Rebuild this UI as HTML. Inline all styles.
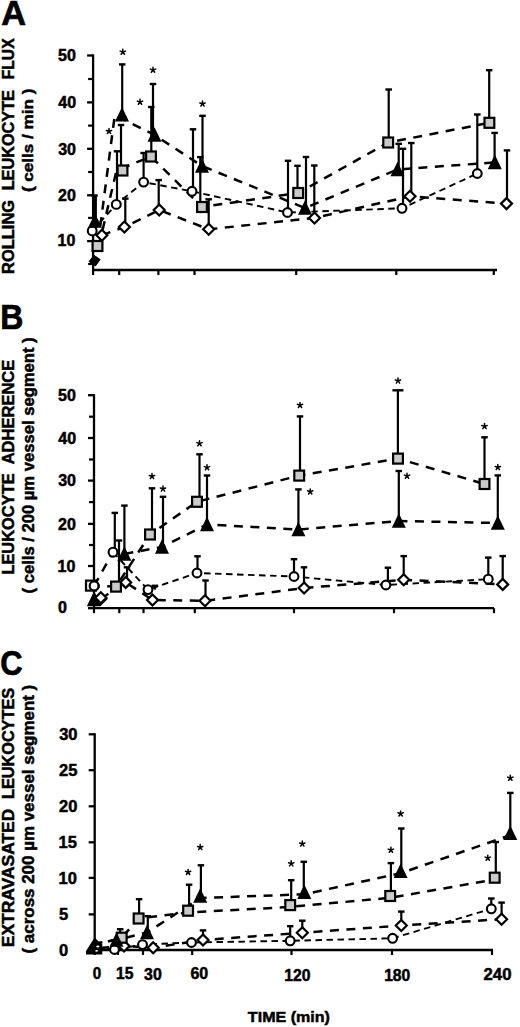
<!DOCTYPE html><html><head><meta charset="utf-8"><style>html,body{margin:0;padding:0;background:#fff;overflow:hidden;}svg{display:block;}text{font-family:"Liberation Sans", sans-serif;font-weight:bold;fill:#000;}</style></head><body>
<svg width="520" height="1027" viewBox="0 0 520 1027">
<rect width="520" height="1027" fill="#fff"/>
<text x="1.19" y="25.35" font-size="34.35" textLength="24.79" lengthAdjust="spacingAndGlyphs" stroke="#000" stroke-width="0.7">A</text>
<text x="0.27" y="329.35" font-size="35.08" textLength="23.09" lengthAdjust="spacingAndGlyphs" stroke="#000" stroke-width="0.7">B</text>
<text x="0.31" y="674.90" font-size="34.94" textLength="22.38" lengthAdjust="spacingAndGlyphs" stroke="#000" stroke-width="0.7">C</text>
<text transform="translate(14.00,79.27) rotate(-90)" font-size="16.50" textLength="40.89" lengthAdjust="spacingAndGlyphs" stroke="#000" stroke-width="0.5">FLUX</text>
<text transform="translate(14.00,190.31) rotate(-90)" font-size="16.50" textLength="100.26" lengthAdjust="spacingAndGlyphs" stroke="#000" stroke-width="0.5">LEUKOCYTE</text>
<text transform="translate(14.00,274.02) rotate(-90)" font-size="16.50" textLength="74.13" lengthAdjust="spacingAndGlyphs" stroke="#000" stroke-width="0.5">ROLLING</text>
<text transform="translate(33.00,192.10) rotate(-90)" font-size="15.50" textLength="103.56" lengthAdjust="spacingAndGlyphs" stroke="#000" stroke-width="0.5">( cells / min )</text>
<text transform="translate(14.00,464.36) rotate(-90)" font-size="16.50" textLength="104.66" lengthAdjust="spacingAndGlyphs" stroke="#000" stroke-width="0.5">ADHERENCE</text>
<text transform="translate(14.00,574.62) rotate(-90)" font-size="16.50" textLength="101.28" lengthAdjust="spacingAndGlyphs" stroke="#000" stroke-width="0.5">LEUKOCYTE</text>
<text transform="translate(33.50,593.48) rotate(-90)" font-size="16.00" textLength="256.12" lengthAdjust="spacingAndGlyphs" stroke="#000" stroke-width="0.5">( cells / 200 µm vessel segment )</text>
<text transform="translate(14.30,799.01) rotate(-90)" font-size="16.50" textLength="111.09" lengthAdjust="spacingAndGlyphs" stroke="#000" stroke-width="0.5">LEUKOCYTES</text>
<text transform="translate(14.30,947.18) rotate(-90)" font-size="16.50" textLength="138.53" lengthAdjust="spacingAndGlyphs" stroke="#000" stroke-width="0.5">EXTRAVASATED</text>
<text transform="translate(34.00,953.50) rotate(-90)" font-size="16.00" textLength="268.75" lengthAdjust="spacingAndGlyphs" stroke="#000" stroke-width="0.5">( across 200 µm vessel segment )</text>
<line x1="93.10" y1="54.40" x2="93.10" y2="271.10" stroke="#000" stroke-width="2.3" stroke-linecap="butt"/>
<line x1="87.10" y1="55.50" x2="93.10" y2="55.50" stroke="#000" stroke-width="2.3" stroke-linecap="butt"/>
<line x1="87.10" y1="102.40" x2="93.10" y2="102.40" stroke="#000" stroke-width="2.3" stroke-linecap="butt"/>
<line x1="87.10" y1="148.80" x2="93.10" y2="148.80" stroke="#000" stroke-width="2.3" stroke-linecap="butt"/>
<line x1="87.10" y1="195.30" x2="93.10" y2="195.30" stroke="#000" stroke-width="2.3" stroke-linecap="butt"/>
<line x1="87.10" y1="241.10" x2="93.10" y2="241.10" stroke="#000" stroke-width="2.3" stroke-linecap="butt"/>
<line x1="88.10" y1="79.00" x2="93.10" y2="79.00" stroke="#000" stroke-width="2.2" stroke-linecap="butt"/>
<line x1="88.10" y1="125.60" x2="93.10" y2="125.60" stroke="#000" stroke-width="2.2" stroke-linecap="butt"/>
<line x1="88.10" y1="172.00" x2="93.10" y2="172.00" stroke="#000" stroke-width="2.2" stroke-linecap="butt"/>
<line x1="88.10" y1="217.90" x2="93.10" y2="217.90" stroke="#000" stroke-width="2.2" stroke-linecap="butt"/>
<line x1="88.10" y1="264.00" x2="93.10" y2="264.00" stroke="#000" stroke-width="2.2" stroke-linecap="butt"/>
<line x1="92.00" y1="270.00" x2="497.00" y2="270.00" stroke="#000" stroke-width="2.3" stroke-linecap="butt"/>
<line x1="93.10" y1="270.00" x2="93.10" y2="275.00" stroke="#000" stroke-width="2.2" stroke-linecap="butt"/>
<line x1="119.20" y1="270.00" x2="119.20" y2="275.00" stroke="#000" stroke-width="2.2" stroke-linecap="butt"/>
<line x1="158.40" y1="270.00" x2="158.40" y2="275.00" stroke="#000" stroke-width="2.2" stroke-linecap="butt"/>
<line x1="194.50" y1="270.00" x2="194.50" y2="275.00" stroke="#000" stroke-width="2.2" stroke-linecap="butt"/>
<line x1="296.20" y1="270.00" x2="296.20" y2="275.00" stroke="#000" stroke-width="2.2" stroke-linecap="butt"/>
<line x1="396.30" y1="270.00" x2="396.30" y2="275.00" stroke="#000" stroke-width="2.2" stroke-linecap="butt"/>
<line x1="493.80" y1="270.00" x2="493.80" y2="275.00" stroke="#000" stroke-width="2.2" stroke-linecap="butt"/>
<text x="58.12" y="60.96" font-size="16" stroke="#000" stroke-width="0.5">50</text>
<text x="58.36" y="108.16" font-size="16" stroke="#000" stroke-width="0.5">40</text>
<text x="58.20" y="154.66" font-size="16" stroke="#000" stroke-width="0.5">30</text>
<text x="58.04" y="201.06" font-size="16" stroke="#000" stroke-width="0.5">20</text>
<text x="57.56" y="246.46" font-size="16" stroke="#000" stroke-width="0.5">10</text>
<polyline points="100.30,226.00 114.80,115.00 154.50,135.00 202.00,166.00 305.00,208.00 397.50,169.50 494.80,162.40" fill="none" stroke="#000" stroke-width="2.5" stroke-dasharray="9 7.5"/>
<polyline points="98.80,246.00 116.50,170.50 151.00,156.50 202.00,207.00 298.20,193.00 388.20,142.50 489.40,122.80" fill="none" stroke="#000" stroke-width="2.5" stroke-dasharray="9 7.5"/>
<polyline points="92.20,230.90 116.30,204.40 143.60,182.10 192.00,191.30 287.50,212.50 402.00,208.30 477.30,173.50" fill="none" stroke="#000" stroke-width="1.9" stroke-dasharray="6.5 4.5"/>
<polyline points="101.90,235.20 124.40,227.00 159.20,210.00 208.70,229.30 314.50,218.00 410.00,196.30 506.50,203.60" fill="none" stroke="#000" stroke-width="2.5" stroke-dasharray="9 7.5"/>
<line x1="94.50" y1="223.00" x2="94.50" y2="195.50" stroke="#000" stroke-width="2.2" stroke-linecap="butt"/>
<line x1="91.25" y1="195.50" x2="97.75" y2="195.50" stroke="#000" stroke-width="2.4" stroke-linecap="butt"/>
<line x1="200.30" y1="207.00" x2="200.30" y2="157.10" stroke="#000" stroke-width="2.2" stroke-linecap="butt"/>
<line x1="197.05" y1="157.10" x2="203.55" y2="157.10" stroke="#000" stroke-width="2.4" stroke-linecap="butt"/>
<line x1="122.20" y1="114.80" x2="122.20" y2="64.40" stroke="#000" stroke-width="2.2" stroke-linecap="butt"/>
<line x1="118.95" y1="64.40" x2="125.45" y2="64.40" stroke="#000" stroke-width="2.4" stroke-linecap="butt"/>
<line x1="153.00" y1="135.00" x2="153.00" y2="84.00" stroke="#000" stroke-width="2.2" stroke-linecap="butt"/>
<line x1="149.75" y1="84.00" x2="156.25" y2="84.00" stroke="#000" stroke-width="2.4" stroke-linecap="butt"/>
<line x1="202.50" y1="166.00" x2="202.50" y2="115.80" stroke="#000" stroke-width="2.2" stroke-linecap="butt"/>
<line x1="199.25" y1="115.80" x2="205.75" y2="115.80" stroke="#000" stroke-width="2.4" stroke-linecap="butt"/>
<line x1="306.00" y1="208.00" x2="306.00" y2="157.00" stroke="#000" stroke-width="2.2" stroke-linecap="butt"/>
<line x1="302.75" y1="157.00" x2="309.25" y2="157.00" stroke="#000" stroke-width="2.4" stroke-linecap="butt"/>
<line x1="398.70" y1="169.50" x2="398.70" y2="143.80" stroke="#000" stroke-width="2.2" stroke-linecap="butt"/>
<line x1="395.45" y1="143.80" x2="401.95" y2="143.80" stroke="#000" stroke-width="2.4" stroke-linecap="butt"/>
<line x1="494.60" y1="162.40" x2="494.60" y2="132.90" stroke="#000" stroke-width="2.2" stroke-linecap="butt"/>
<line x1="491.35" y1="132.90" x2="497.85" y2="132.90" stroke="#000" stroke-width="2.4" stroke-linecap="butt"/>
<line x1="121.00" y1="170.50" x2="121.00" y2="125.00" stroke="#000" stroke-width="2.2" stroke-linecap="butt"/>
<line x1="117.75" y1="125.00" x2="124.25" y2="125.00" stroke="#000" stroke-width="2.4" stroke-linecap="butt"/>
<line x1="151.30" y1="156.50" x2="151.30" y2="107.00" stroke="#000" stroke-width="2.2" stroke-linecap="butt"/>
<line x1="148.05" y1="107.00" x2="154.55" y2="107.00" stroke="#000" stroke-width="2.4" stroke-linecap="butt"/>
<line x1="297.50" y1="193.00" x2="297.50" y2="165.80" stroke="#000" stroke-width="2.2" stroke-linecap="butt"/>
<line x1="294.25" y1="165.80" x2="300.75" y2="165.80" stroke="#000" stroke-width="2.4" stroke-linecap="butt"/>
<line x1="388.70" y1="142.50" x2="388.70" y2="89.50" stroke="#000" stroke-width="2.2" stroke-linecap="butt"/>
<line x1="385.45" y1="89.50" x2="391.95" y2="89.50" stroke="#000" stroke-width="2.4" stroke-linecap="butt"/>
<line x1="489.20" y1="122.80" x2="489.20" y2="70.20" stroke="#000" stroke-width="2.2" stroke-linecap="butt"/>
<line x1="485.95" y1="70.20" x2="492.45" y2="70.20" stroke="#000" stroke-width="2.4" stroke-linecap="butt"/>
<line x1="117.00" y1="204.40" x2="117.00" y2="151.30" stroke="#000" stroke-width="2.2" stroke-linecap="butt"/>
<line x1="113.75" y1="151.30" x2="120.25" y2="151.30" stroke="#000" stroke-width="2.4" stroke-linecap="butt"/>
<line x1="143.60" y1="182.10" x2="143.60" y2="153.00" stroke="#000" stroke-width="2.2" stroke-linecap="butt"/>
<line x1="140.35" y1="153.00" x2="146.85" y2="153.00" stroke="#000" stroke-width="2.4" stroke-linecap="butt"/>
<line x1="193.00" y1="191.30" x2="193.00" y2="129.30" stroke="#000" stroke-width="2.2" stroke-linecap="butt"/>
<line x1="189.75" y1="129.30" x2="196.25" y2="129.30" stroke="#000" stroke-width="2.4" stroke-linecap="butt"/>
<line x1="288.00" y1="212.50" x2="288.00" y2="160.80" stroke="#000" stroke-width="2.2" stroke-linecap="butt"/>
<line x1="284.75" y1="160.80" x2="291.25" y2="160.80" stroke="#000" stroke-width="2.4" stroke-linecap="butt"/>
<line x1="403.00" y1="208.30" x2="403.00" y2="148.80" stroke="#000" stroke-width="2.2" stroke-linecap="butt"/>
<line x1="399.75" y1="148.80" x2="406.25" y2="148.80" stroke="#000" stroke-width="2.4" stroke-linecap="butt"/>
<line x1="477.30" y1="173.50" x2="477.30" y2="114.50" stroke="#000" stroke-width="2.2" stroke-linecap="butt"/>
<line x1="474.05" y1="114.50" x2="480.55" y2="114.50" stroke="#000" stroke-width="2.4" stroke-linecap="butt"/>
<line x1="125.30" y1="227.00" x2="125.30" y2="198.60" stroke="#000" stroke-width="2.2" stroke-linecap="butt"/>
<line x1="122.05" y1="198.60" x2="128.55" y2="198.60" stroke="#000" stroke-width="2.4" stroke-linecap="butt"/>
<line x1="158.70" y1="210.00" x2="158.70" y2="180.10" stroke="#000" stroke-width="2.2" stroke-linecap="butt"/>
<line x1="155.45" y1="180.10" x2="161.95" y2="180.10" stroke="#000" stroke-width="2.4" stroke-linecap="butt"/>
<line x1="208.70" y1="229.30" x2="208.70" y2="199.30" stroke="#000" stroke-width="2.2" stroke-linecap="butt"/>
<line x1="205.45" y1="199.30" x2="211.95" y2="199.30" stroke="#000" stroke-width="2.4" stroke-linecap="butt"/>
<line x1="314.30" y1="218.00" x2="314.30" y2="165.50" stroke="#000" stroke-width="2.2" stroke-linecap="butt"/>
<line x1="311.05" y1="165.50" x2="317.55" y2="165.50" stroke="#000" stroke-width="2.4" stroke-linecap="butt"/>
<line x1="411.30" y1="196.30" x2="411.30" y2="143.00" stroke="#000" stroke-width="2.2" stroke-linecap="butt"/>
<line x1="408.05" y1="143.00" x2="414.55" y2="143.00" stroke="#000" stroke-width="2.4" stroke-linecap="butt"/>
<line x1="507.00" y1="203.60" x2="507.00" y2="150.40" stroke="#000" stroke-width="2.2" stroke-linecap="butt"/>
<line x1="503.75" y1="150.40" x2="510.25" y2="150.40" stroke="#000" stroke-width="2.4" stroke-linecap="butt"/>
<path d="M101.90,229.70 L107.40,235.20 L101.90,240.70 L96.40,235.20 Z" fill="#fff" stroke="#000" stroke-width="2.2"/>
<path d="M124.40,221.50 L129.90,227.00 L124.40,232.50 L118.90,227.00 Z" fill="#fff" stroke="#000" stroke-width="2.2"/>
<path d="M159.20,204.50 L164.70,210.00 L159.20,215.50 L153.70,210.00 Z" fill="#fff" stroke="#000" stroke-width="2.2"/>
<path d="M208.70,223.80 L214.20,229.30 L208.70,234.80 L203.20,229.30 Z" fill="#fff" stroke="#000" stroke-width="2.2"/>
<path d="M314.50,212.50 L320.00,218.00 L314.50,223.50 L309.00,218.00 Z" fill="#fff" stroke="#000" stroke-width="2.2"/>
<path d="M410.00,190.80 L415.50,196.30 L410.00,201.80 L404.50,196.30 Z" fill="#fff" stroke="#000" stroke-width="2.2"/>
<path d="M506.50,198.10 L512.00,203.60 L506.50,209.10 L501.00,203.60 Z" fill="#fff" stroke="#000" stroke-width="2.2"/>
<circle cx="92.20" cy="230.90" r="4.4" fill="#fff" stroke="#000" stroke-width="2.1"/>
<circle cx="116.30" cy="204.40" r="4.4" fill="#fff" stroke="#000" stroke-width="2.1"/>
<circle cx="143.60" cy="182.10" r="4.4" fill="#fff" stroke="#000" stroke-width="2.1"/>
<circle cx="192.00" cy="191.30" r="4.4" fill="#fff" stroke="#000" stroke-width="2.1"/>
<circle cx="287.50" cy="212.50" r="4.4" fill="#fff" stroke="#000" stroke-width="2.1"/>
<circle cx="402.00" cy="208.30" r="4.4" fill="#fff" stroke="#000" stroke-width="2.1"/>
<circle cx="477.30" cy="173.50" r="4.4" fill="#fff" stroke="#000" stroke-width="2.1"/>
<rect x="92.60" y="241.00" width="9.8" height="10" fill="#cacaca" stroke="#000" stroke-width="2.2"/>
<rect x="117.60" y="165.50" width="9.8" height="10" fill="#cacaca" stroke="#000" stroke-width="2.2"/>
<rect x="146.10" y="151.50" width="9.8" height="10" fill="#cacaca" stroke="#000" stroke-width="2.2"/>
<rect x="197.10" y="202.00" width="9.8" height="10" fill="#cacaca" stroke="#000" stroke-width="2.2"/>
<rect x="293.30" y="188.00" width="9.8" height="10" fill="#cacaca" stroke="#000" stroke-width="2.2"/>
<rect x="383.30" y="137.50" width="9.8" height="10" fill="#cacaca" stroke="#000" stroke-width="2.2"/>
<rect x="484.50" y="117.80" width="9.8" height="10" fill="#cacaca" stroke="#000" stroke-width="2.2"/>
<path d="M95.00,213.20 L102.00,227.80 L88.00,227.80 Z" fill="#000"/>
<path d="M122.00,107.00 L129.00,121.60 L115.00,121.60 Z" fill="#000"/>
<path d="M154.50,127.20 L161.50,141.80 L147.50,141.80 Z" fill="#000"/>
<path d="M202.00,158.20 L209.00,172.80 L195.00,172.80 Z" fill="#000"/>
<path d="M305.00,200.20 L312.00,214.80 L298.00,214.80 Z" fill="#000"/>
<path d="M397.50,161.70 L404.50,176.30 L390.50,176.30 Z" fill="#000"/>
<path d="M494.80,154.60 L501.80,169.20 L487.80,169.20 Z" fill="#000"/>
<path d="M122.80,52.00L122.80,49.20M122.80,52.00L125.46,51.13M122.80,52.00L124.45,54.27M122.80,52.00L121.15,54.27M122.80,52.00L120.14,51.13" stroke="#000" stroke-width="1.5" stroke-linecap="round" fill="none"/>
<path d="M109.00,131.30L109.00,128.50M109.00,131.30L111.66,130.43M109.00,131.30L110.65,133.57M109.00,131.30L107.35,133.57M109.00,131.30L106.34,130.43" stroke="#000" stroke-width="1.5" stroke-linecap="round" fill="none"/>
<path d="M153.00,70.00L153.00,67.20M153.00,70.00L155.66,69.13M153.00,70.00L154.65,72.27M153.00,70.00L151.35,72.27M153.00,70.00L150.34,69.13" stroke="#000" stroke-width="1.5" stroke-linecap="round" fill="none"/>
<path d="M140.00,102.00L140.00,99.20M140.00,102.00L142.66,101.13M140.00,102.00L141.65,104.27M140.00,102.00L138.35,104.27M140.00,102.00L137.34,101.13" stroke="#000" stroke-width="1.5" stroke-linecap="round" fill="none"/>
<path d="M202.50,103.80L202.50,101.00M202.50,103.80L205.16,102.93M202.50,103.80L204.15,106.07M202.50,103.80L200.85,106.07M202.50,103.80L199.84,102.93" stroke="#000" stroke-width="1.5" stroke-linecap="round" fill="none"/>
<path d="M94.00,255.30 L100.10,259.50 L95.50,265.90 L89.10,261.50 Z" fill="#000" stroke="#000" stroke-width="1"/>
<rect x="92.2" y="196" width="4.7" height="28" fill="#000"/>
<line x1="94.00" y1="394.10" x2="94.00" y2="609.30" stroke="#000" stroke-width="2.3" stroke-linecap="butt"/>
<line x1="88.00" y1="395.20" x2="94.00" y2="395.20" stroke="#000" stroke-width="2.3" stroke-linecap="butt"/>
<line x1="88.00" y1="438.00" x2="94.00" y2="438.00" stroke="#000" stroke-width="2.3" stroke-linecap="butt"/>
<line x1="88.00" y1="480.60" x2="94.00" y2="480.60" stroke="#000" stroke-width="2.3" stroke-linecap="butt"/>
<line x1="88.00" y1="523.90" x2="94.00" y2="523.90" stroke="#000" stroke-width="2.3" stroke-linecap="butt"/>
<line x1="88.00" y1="566.00" x2="94.00" y2="566.00" stroke="#000" stroke-width="2.3" stroke-linecap="butt"/>
<line x1="88.00" y1="608.20" x2="94.00" y2="608.20" stroke="#000" stroke-width="2.3" stroke-linecap="butt"/>
<line x1="89.00" y1="416.70" x2="94.00" y2="416.70" stroke="#000" stroke-width="2.2" stroke-linecap="butt"/>
<line x1="89.00" y1="459.50" x2="94.00" y2="459.50" stroke="#000" stroke-width="2.2" stroke-linecap="butt"/>
<line x1="89.00" y1="502.10" x2="94.00" y2="502.10" stroke="#000" stroke-width="2.2" stroke-linecap="butt"/>
<line x1="89.00" y1="545.00" x2="94.00" y2="545.00" stroke="#000" stroke-width="2.2" stroke-linecap="butt"/>
<line x1="89.00" y1="587.00" x2="94.00" y2="587.00" stroke="#000" stroke-width="2.2" stroke-linecap="butt"/>
<line x1="92.90" y1="608.20" x2="494.00" y2="608.20" stroke="#000" stroke-width="2.3" stroke-linecap="butt"/>
<line x1="94.00" y1="608.20" x2="94.00" y2="613.20" stroke="#000" stroke-width="2.2" stroke-linecap="butt"/>
<line x1="119.30" y1="608.20" x2="119.30" y2="613.20" stroke="#000" stroke-width="2.2" stroke-linecap="butt"/>
<line x1="143.50" y1="608.20" x2="143.50" y2="613.20" stroke="#000" stroke-width="2.2" stroke-linecap="butt"/>
<line x1="194.80" y1="608.20" x2="194.80" y2="613.20" stroke="#000" stroke-width="2.2" stroke-linecap="butt"/>
<line x1="294.00" y1="608.20" x2="294.00" y2="613.20" stroke="#000" stroke-width="2.2" stroke-linecap="butt"/>
<line x1="394.00" y1="608.20" x2="394.00" y2="613.20" stroke="#000" stroke-width="2.2" stroke-linecap="butt"/>
<line x1="494.00" y1="608.20" x2="494.00" y2="613.20" stroke="#000" stroke-width="2.2" stroke-linecap="butt"/>
<text x="58.12" y="400.66" font-size="16" stroke="#000" stroke-width="0.5">50</text>
<text x="58.36" y="443.66" font-size="16" stroke="#000" stroke-width="0.5">40</text>
<text x="58.20" y="486.26" font-size="16" stroke="#000" stroke-width="0.5">30</text>
<text x="58.04" y="529.56" font-size="16" stroke="#000" stroke-width="0.5">20</text>
<text x="57.56" y="571.66" font-size="16" stroke="#000" stroke-width="0.5">10</text>
<text x="57.96" y="613.16" font-size="16" stroke="#000" stroke-width="0.5">0</text>
<polyline points="124.40,554.00 162.00,547.00 207.00,524.50 298.40,529.50 398.80,521.00 497.80,523.00" fill="none" stroke="#000" stroke-width="2.5" stroke-dasharray="9 7.5"/>
<polyline points="90.70,585.70 116.00,586.60 150.00,534.50 197.00,501.80 299.20,475.60 398.00,458.60 484.50,484.00" fill="none" stroke="#000" stroke-width="2.5" stroke-dasharray="9 7.5"/>
<polyline points="113.00,552.20 148.00,589.60 197.00,573.00 294.00,576.50 385.90,585.00 488.30,579.20" fill="none" stroke="#000" stroke-width="1.9" stroke-dasharray="6.5 4.5"/>
<polyline points="100.90,598.70 125.70,582.40 152.50,600.00 205.00,600.80 304.10,588.00 403.70,579.80 502.70,584.40" fill="none" stroke="#000" stroke-width="2.5" stroke-dasharray="9 7.5"/>
<polyline points="94.10,585.90 113.00,552.20" fill="none" stroke="#000" stroke-width="2.5" stroke-dasharray="9 7.5"/>
<rect x="86.00" y="580.60" width="9.8" height="10" fill="#f4f4f4" stroke="#000" stroke-width="2.2"/>
<line x1="124.40" y1="554.00" x2="124.40" y2="505.60" stroke="#000" stroke-width="2.2" stroke-linecap="butt"/>
<line x1="121.15" y1="505.60" x2="127.65" y2="505.60" stroke="#000" stroke-width="2.4" stroke-linecap="butt"/>
<line x1="163.00" y1="547.00" x2="163.00" y2="496.80" stroke="#000" stroke-width="2.2" stroke-linecap="butt"/>
<line x1="159.75" y1="496.80" x2="166.25" y2="496.80" stroke="#000" stroke-width="2.4" stroke-linecap="butt"/>
<line x1="207.00" y1="524.50" x2="207.00" y2="475.50" stroke="#000" stroke-width="2.2" stroke-linecap="butt"/>
<line x1="203.75" y1="475.50" x2="210.25" y2="475.50" stroke="#000" stroke-width="2.4" stroke-linecap="butt"/>
<line x1="298.40" y1="529.50" x2="298.40" y2="489.40" stroke="#000" stroke-width="2.2" stroke-linecap="butt"/>
<line x1="295.15" y1="489.40" x2="301.65" y2="489.40" stroke="#000" stroke-width="2.4" stroke-linecap="butt"/>
<line x1="398.80" y1="521.00" x2="398.80" y2="471.00" stroke="#000" stroke-width="2.2" stroke-linecap="butt"/>
<line x1="395.55" y1="471.00" x2="402.05" y2="471.00" stroke="#000" stroke-width="2.4" stroke-linecap="butt"/>
<line x1="497.80" y1="523.00" x2="497.80" y2="475.40" stroke="#000" stroke-width="2.2" stroke-linecap="butt"/>
<line x1="494.55" y1="475.40" x2="501.05" y2="475.40" stroke="#000" stroke-width="2.4" stroke-linecap="butt"/>
<line x1="119.00" y1="586.60" x2="119.00" y2="540.50" stroke="#000" stroke-width="2.2" stroke-linecap="butt"/>
<line x1="115.75" y1="540.50" x2="122.25" y2="540.50" stroke="#000" stroke-width="2.4" stroke-linecap="butt"/>
<line x1="152.00" y1="534.50" x2="152.00" y2="488.30" stroke="#000" stroke-width="2.2" stroke-linecap="butt"/>
<line x1="148.75" y1="488.30" x2="155.25" y2="488.30" stroke="#000" stroke-width="2.4" stroke-linecap="butt"/>
<line x1="199.50" y1="501.80" x2="199.50" y2="454.30" stroke="#000" stroke-width="2.2" stroke-linecap="butt"/>
<line x1="196.25" y1="454.30" x2="202.75" y2="454.30" stroke="#000" stroke-width="2.4" stroke-linecap="butt"/>
<line x1="300.00" y1="475.60" x2="300.00" y2="416.40" stroke="#000" stroke-width="2.2" stroke-linecap="butt"/>
<line x1="296.75" y1="416.40" x2="303.25" y2="416.40" stroke="#000" stroke-width="2.4" stroke-linecap="butt"/>
<line x1="397.90" y1="458.60" x2="397.90" y2="390.30" stroke="#000" stroke-width="2.2" stroke-linecap="butt"/>
<line x1="392.40" y1="390.30" x2="403.40" y2="390.30" stroke="#000" stroke-width="2.4" stroke-linecap="butt"/>
<line x1="484.50" y1="484.00" x2="484.50" y2="437.30" stroke="#000" stroke-width="2.2" stroke-linecap="butt"/>
<line x1="481.25" y1="437.30" x2="487.75" y2="437.30" stroke="#000" stroke-width="2.4" stroke-linecap="butt"/>
<line x1="114.80" y1="552.20" x2="114.80" y2="512.90" stroke="#000" stroke-width="2.2" stroke-linecap="butt"/>
<line x1="111.55" y1="512.90" x2="118.05" y2="512.90" stroke="#000" stroke-width="2.4" stroke-linecap="butt"/>
<line x1="155.00" y1="589.60" x2="155.00" y2="585.80" stroke="#000" stroke-width="2.2" stroke-linecap="butt"/>
<line x1="151.75" y1="585.80" x2="158.25" y2="585.80" stroke="#000" stroke-width="2.4" stroke-linecap="butt"/>
<line x1="197.50" y1="573.00" x2="197.50" y2="556.30" stroke="#000" stroke-width="2.2" stroke-linecap="butt"/>
<line x1="194.25" y1="556.30" x2="200.75" y2="556.30" stroke="#000" stroke-width="2.4" stroke-linecap="butt"/>
<line x1="294.00" y1="576.50" x2="294.00" y2="559.20" stroke="#000" stroke-width="2.2" stroke-linecap="butt"/>
<line x1="290.75" y1="559.20" x2="297.25" y2="559.20" stroke="#000" stroke-width="2.4" stroke-linecap="butt"/>
<line x1="387.90" y1="585.00" x2="387.90" y2="567.70" stroke="#000" stroke-width="2.2" stroke-linecap="butt"/>
<line x1="384.65" y1="567.70" x2="391.15" y2="567.70" stroke="#000" stroke-width="2.4" stroke-linecap="butt"/>
<line x1="488.30" y1="579.20" x2="488.30" y2="557.60" stroke="#000" stroke-width="2.2" stroke-linecap="butt"/>
<line x1="485.05" y1="557.60" x2="491.55" y2="557.60" stroke="#000" stroke-width="2.4" stroke-linecap="butt"/>
<line x1="127.00" y1="582.40" x2="127.00" y2="567.30" stroke="#000" stroke-width="2.2" stroke-linecap="butt"/>
<line x1="123.75" y1="567.30" x2="130.25" y2="567.30" stroke="#000" stroke-width="2.4" stroke-linecap="butt"/>
<line x1="205.50" y1="600.80" x2="205.50" y2="580.50" stroke="#000" stroke-width="2.2" stroke-linecap="butt"/>
<line x1="202.25" y1="580.50" x2="208.75" y2="580.50" stroke="#000" stroke-width="2.4" stroke-linecap="butt"/>
<line x1="304.00" y1="588.00" x2="304.00" y2="567.30" stroke="#000" stroke-width="2.2" stroke-linecap="butt"/>
<line x1="300.75" y1="567.30" x2="307.25" y2="567.30" stroke="#000" stroke-width="2.4" stroke-linecap="butt"/>
<line x1="403.70" y1="579.80" x2="403.70" y2="556.10" stroke="#000" stroke-width="2.2" stroke-linecap="butt"/>
<line x1="400.45" y1="556.10" x2="406.95" y2="556.10" stroke="#000" stroke-width="2.4" stroke-linecap="butt"/>
<line x1="502.70" y1="584.40" x2="502.70" y2="556.10" stroke="#000" stroke-width="2.2" stroke-linecap="butt"/>
<line x1="499.45" y1="556.10" x2="505.95" y2="556.10" stroke="#000" stroke-width="2.4" stroke-linecap="butt"/>
<path d="M100.90,593.20 L106.40,598.70 L100.90,604.20 L95.40,598.70 Z" fill="#fff" stroke="#000" stroke-width="2.2"/>
<path d="M125.70,576.90 L131.20,582.40 L125.70,587.90 L120.20,582.40 Z" fill="#fff" stroke="#000" stroke-width="2.2"/>
<path d="M152.50,594.50 L158.00,600.00 L152.50,605.50 L147.00,600.00 Z" fill="#fff" stroke="#000" stroke-width="2.2"/>
<path d="M205.00,595.30 L210.50,600.80 L205.00,606.30 L199.50,600.80 Z" fill="#fff" stroke="#000" stroke-width="2.2"/>
<path d="M304.10,582.50 L309.60,588.00 L304.10,593.50 L298.60,588.00 Z" fill="#fff" stroke="#000" stroke-width="2.2"/>
<path d="M403.70,574.30 L409.20,579.80 L403.70,585.30 L398.20,579.80 Z" fill="#fff" stroke="#000" stroke-width="2.2"/>
<path d="M502.70,578.90 L508.20,584.40 L502.70,589.90 L497.20,584.40 Z" fill="#fff" stroke="#000" stroke-width="2.2"/>
<circle cx="94.30" cy="586.00" r="4.4" fill="#fff" stroke="#000" stroke-width="2.1"/>
<circle cx="113.00" cy="552.20" r="4.4" fill="#fff" stroke="#000" stroke-width="2.1"/>
<circle cx="148.00" cy="589.60" r="4.4" fill="#fff" stroke="#000" stroke-width="2.1"/>
<circle cx="197.00" cy="573.00" r="4.4" fill="#fff" stroke="#000" stroke-width="2.1"/>
<circle cx="294.00" cy="576.50" r="4.4" fill="#fff" stroke="#000" stroke-width="2.1"/>
<circle cx="385.90" cy="585.00" r="4.4" fill="#fff" stroke="#000" stroke-width="2.1"/>
<circle cx="488.30" cy="579.20" r="4.4" fill="#fff" stroke="#000" stroke-width="2.1"/>
<rect x="111.10" y="581.60" width="9.8" height="10" fill="#cacaca" stroke="#000" stroke-width="2.2"/>
<rect x="145.10" y="529.50" width="9.8" height="10" fill="#cacaca" stroke="#000" stroke-width="2.2"/>
<rect x="192.10" y="496.80" width="9.8" height="10" fill="#cacaca" stroke="#000" stroke-width="2.2"/>
<rect x="294.30" y="470.60" width="9.8" height="10" fill="#cacaca" stroke="#000" stroke-width="2.2"/>
<rect x="393.10" y="453.60" width="9.8" height="10" fill="#cacaca" stroke="#000" stroke-width="2.2"/>
<rect x="479.60" y="479.00" width="9.8" height="10" fill="#cacaca" stroke="#000" stroke-width="2.2"/>
<path d="M94.00,591.70 L101.00,606.30 L87.00,606.30 Z" fill="#000"/>
<path d="M124.40,546.20 L131.40,560.80 L117.40,560.80 Z" fill="#000"/>
<path d="M162.00,539.20 L169.00,553.80 L155.00,553.80 Z" fill="#000"/>
<path d="M207.00,516.70 L214.00,531.30 L200.00,531.30 Z" fill="#000"/>
<path d="M298.40,521.70 L305.40,536.30 L291.40,536.30 Z" fill="#000"/>
<path d="M398.80,513.20 L405.80,527.80 L391.80,527.80 Z" fill="#000"/>
<path d="M497.80,515.20 L504.80,529.80 L490.80,529.80 Z" fill="#000"/>
<path d="M152.00,476.30L152.00,473.50M152.00,476.30L154.66,475.43M152.00,476.30L153.65,478.57M152.00,476.30L150.35,478.57M152.00,476.30L149.34,475.43" stroke="#000" stroke-width="1.5" stroke-linecap="round" fill="none"/>
<path d="M163.00,488.80L163.00,486.00M163.00,488.80L165.66,487.93M163.00,488.80L164.65,491.07M163.00,488.80L161.35,491.07M163.00,488.80L160.34,487.93" stroke="#000" stroke-width="1.5" stroke-linecap="round" fill="none"/>
<path d="M199.50,443.50L199.50,440.70M199.50,443.50L202.16,442.63M199.50,443.50L201.15,445.77M199.50,443.50L197.85,445.77M199.50,443.50L196.84,442.63" stroke="#000" stroke-width="1.5" stroke-linecap="round" fill="none"/>
<path d="M207.00,467.50L207.00,464.70M207.00,467.50L209.66,466.63M207.00,467.50L208.65,469.77M207.00,467.50L205.35,469.77M207.00,467.50L204.34,466.63" stroke="#000" stroke-width="1.5" stroke-linecap="round" fill="none"/>
<path d="M300.00,405.20L300.00,402.40M300.00,405.20L302.66,404.33M300.00,405.20L301.65,407.47M300.00,405.20L298.35,407.47M300.00,405.20L297.34,404.33" stroke="#000" stroke-width="1.5" stroke-linecap="round" fill="none"/>
<path d="M310.20,491.70L310.20,488.90M310.20,491.70L312.86,490.83M310.20,491.70L311.85,493.97M310.20,491.70L308.55,493.97M310.20,491.70L307.54,490.83" stroke="#000" stroke-width="1.5" stroke-linecap="round" fill="none"/>
<path d="M398.00,380.80L398.00,378.00M398.00,380.80L400.66,379.93M398.00,380.80L399.65,383.07M398.00,380.80L396.35,383.07M398.00,380.80L395.34,379.93" stroke="#000" stroke-width="1.5" stroke-linecap="round" fill="none"/>
<path d="M407.00,476.00L407.00,473.20M407.00,476.00L409.66,475.13M407.00,476.00L408.65,478.27M407.00,476.00L405.35,478.27M407.00,476.00L404.34,475.13" stroke="#000" stroke-width="1.5" stroke-linecap="round" fill="none"/>
<path d="M484.50,426.30L484.50,423.50M484.50,426.30L487.16,425.43M484.50,426.30L486.15,428.57M484.50,426.30L482.85,428.57M484.50,426.30L481.84,425.43" stroke="#000" stroke-width="1.5" stroke-linecap="round" fill="none"/>
<path d="M497.80,467.30L497.80,464.50M497.80,467.30L500.46,466.43M497.80,467.30L499.45,469.57M497.80,467.30L496.15,469.57M497.80,467.30L495.14,466.43" stroke="#000" stroke-width="1.5" stroke-linecap="round" fill="none"/>
<circle cx="94.10" cy="585.90" r="4.4" fill="#fff" stroke="#000" stroke-width="2.1"/>
<path d="M94.20,591.20 L101.20,605.80 L87.20,605.80 Z" fill="#000"/>
<path d="M100.80,592.30 L106.30,597.80 L100.80,603.30 L95.30,597.80 Z" fill="#fff" stroke="#000" stroke-width="2.2"/>
<line x1="94.70" y1="733.20" x2="94.70" y2="950.60" stroke="#000" stroke-width="2.3" stroke-linecap="butt"/>
<line x1="88.70" y1="734.30" x2="94.70" y2="734.30" stroke="#000" stroke-width="2.3" stroke-linecap="butt"/>
<line x1="88.70" y1="770.20" x2="94.70" y2="770.20" stroke="#000" stroke-width="2.3" stroke-linecap="butt"/>
<line x1="88.70" y1="806.30" x2="94.70" y2="806.30" stroke="#000" stroke-width="2.3" stroke-linecap="butt"/>
<line x1="88.70" y1="842.30" x2="94.70" y2="842.30" stroke="#000" stroke-width="2.3" stroke-linecap="butt"/>
<line x1="88.70" y1="877.90" x2="94.70" y2="877.90" stroke="#000" stroke-width="2.3" stroke-linecap="butt"/>
<line x1="88.70" y1="914.40" x2="94.70" y2="914.40" stroke="#000" stroke-width="2.3" stroke-linecap="butt"/>
<line x1="88.70" y1="949.50" x2="94.70" y2="949.50" stroke="#000" stroke-width="2.3" stroke-linecap="butt"/>
<line x1="93.60" y1="950.00" x2="493.00" y2="950.00" stroke="#000" stroke-width="2.3" stroke-linecap="butt"/>
<line x1="94.70" y1="950.00" x2="94.70" y2="955.00" stroke="#000" stroke-width="2.2" stroke-linecap="butt"/>
<line x1="118.00" y1="950.00" x2="118.00" y2="955.00" stroke="#000" stroke-width="2.2" stroke-linecap="butt"/>
<line x1="143.00" y1="950.00" x2="143.00" y2="955.00" stroke="#000" stroke-width="2.2" stroke-linecap="butt"/>
<line x1="192.20" y1="950.00" x2="192.20" y2="955.00" stroke="#000" stroke-width="2.2" stroke-linecap="butt"/>
<line x1="291.50" y1="950.00" x2="291.50" y2="955.00" stroke="#000" stroke-width="2.2" stroke-linecap="butt"/>
<line x1="392.00" y1="950.00" x2="392.00" y2="955.00" stroke="#000" stroke-width="2.2" stroke-linecap="butt"/>
<line x1="492.00" y1="950.00" x2="492.00" y2="955.00" stroke="#000" stroke-width="2.2" stroke-linecap="butt"/>
<text x="59.19" y="740.34" font-size="16.5" stroke="#000" stroke-width="0.5">30</text>
<text x="59.02" y="776.34" font-size="16.5" stroke="#000" stroke-width="0.5">25</text>
<text x="59.02" y="812.14" font-size="16.5" stroke="#000" stroke-width="0.5">20</text>
<text x="58.53" y="848.24" font-size="16.5" stroke="#000" stroke-width="0.5">15</text>
<text x="58.53" y="883.64" font-size="16.5" stroke="#000" stroke-width="0.5">10</text>
<text x="59.11" y="920.34" font-size="16.5" stroke="#000" stroke-width="0.5">5</text>
<text x="58.94" y="955.64" font-size="16.5" stroke="#000" stroke-width="0.5">0</text>
<polyline points="93.50,943.50 116.50,940.00 147.00,932.50 200.20,898.00 304.30,894.30 400.60,873.20 510.30,835.20" fill="none" stroke="#000" stroke-width="2.5" stroke-dasharray="9 7.5"/>
<polyline points="92.00,946.00 121.70,937.70 138.60,918.50 188.10,912.50 290.20,906.90 390.20,897.80 494.70,879.50" fill="none" stroke="#000" stroke-width="2.5" stroke-dasharray="9 7.5"/>
<polyline points="96.00,948.00 114.50,949.50 142.50,944.60 191.50,942.50 290.20,940.80 392.60,938.30 491.30,908.80" fill="none" stroke="#000" stroke-width="1.9" stroke-dasharray="6.5 4.5"/>
<polyline points="100.00,948.00 124.00,946.00 153.20,947.70 203.00,940.00 302.30,932.80 401.30,925.50 501.60,919.20" fill="none" stroke="#000" stroke-width="2.5" stroke-dasharray="9 7.5"/>
<line x1="147.80" y1="932.50" x2="147.80" y2="916.20" stroke="#000" stroke-width="2.2" stroke-linecap="butt"/>
<line x1="144.55" y1="916.20" x2="151.05" y2="916.20" stroke="#000" stroke-width="2.4" stroke-linecap="butt"/>
<line x1="200.90" y1="896.00" x2="200.90" y2="865.30" stroke="#000" stroke-width="2.2" stroke-linecap="butt"/>
<line x1="197.65" y1="865.30" x2="204.15" y2="865.30" stroke="#000" stroke-width="2.4" stroke-linecap="butt"/>
<line x1="303.80" y1="892.30" x2="303.80" y2="861.80" stroke="#000" stroke-width="2.2" stroke-linecap="butt"/>
<line x1="300.55" y1="861.80" x2="307.05" y2="861.80" stroke="#000" stroke-width="2.4" stroke-linecap="butt"/>
<line x1="401.30" y1="871.20" x2="401.30" y2="828.50" stroke="#000" stroke-width="2.2" stroke-linecap="butt"/>
<line x1="398.05" y1="828.50" x2="404.55" y2="828.50" stroke="#000" stroke-width="2.4" stroke-linecap="butt"/>
<line x1="510.30" y1="833.20" x2="510.30" y2="792.90" stroke="#000" stroke-width="2.2" stroke-linecap="butt"/>
<line x1="507.05" y1="792.90" x2="513.55" y2="792.90" stroke="#000" stroke-width="2.4" stroke-linecap="butt"/>
<line x1="120.20" y1="937.70" x2="120.20" y2="929.20" stroke="#000" stroke-width="2.2" stroke-linecap="butt"/>
<line x1="116.95" y1="929.20" x2="123.45" y2="929.20" stroke="#000" stroke-width="2.4" stroke-linecap="butt"/>
<line x1="139.10" y1="918.50" x2="139.10" y2="899.20" stroke="#000" stroke-width="2.2" stroke-linecap="butt"/>
<line x1="135.85" y1="899.20" x2="142.35" y2="899.20" stroke="#000" stroke-width="2.4" stroke-linecap="butt"/>
<line x1="189.10" y1="910.70" x2="189.10" y2="884.70" stroke="#000" stroke-width="2.2" stroke-linecap="butt"/>
<line x1="185.85" y1="884.70" x2="192.35" y2="884.70" stroke="#000" stroke-width="2.4" stroke-linecap="butt"/>
<line x1="291.20" y1="905.10" x2="291.20" y2="880.20" stroke="#000" stroke-width="2.2" stroke-linecap="butt"/>
<line x1="287.95" y1="880.20" x2="294.45" y2="880.20" stroke="#000" stroke-width="2.4" stroke-linecap="butt"/>
<line x1="390.90" y1="896.00" x2="390.90" y2="863.10" stroke="#000" stroke-width="2.2" stroke-linecap="butt"/>
<line x1="387.65" y1="863.10" x2="394.15" y2="863.10" stroke="#000" stroke-width="2.4" stroke-linecap="butt"/>
<line x1="495.80" y1="877.70" x2="495.80" y2="842.00" stroke="#000" stroke-width="2.2" stroke-linecap="butt"/>
<line x1="492.55" y1="842.00" x2="499.05" y2="842.00" stroke="#000" stroke-width="2.4" stroke-linecap="butt"/>
<line x1="290.20" y1="940.80" x2="290.20" y2="926.20" stroke="#000" stroke-width="2.2" stroke-linecap="butt"/>
<line x1="286.95" y1="926.20" x2="293.45" y2="926.20" stroke="#000" stroke-width="2.4" stroke-linecap="butt"/>
<line x1="491.30" y1="908.80" x2="491.30" y2="898.50" stroke="#000" stroke-width="2.2" stroke-linecap="butt"/>
<line x1="488.05" y1="898.50" x2="494.55" y2="898.50" stroke="#000" stroke-width="2.4" stroke-linecap="butt"/>
<line x1="203.00" y1="940.00" x2="203.00" y2="930.40" stroke="#000" stroke-width="2.2" stroke-linecap="butt"/>
<line x1="199.75" y1="930.40" x2="206.25" y2="930.40" stroke="#000" stroke-width="2.4" stroke-linecap="butt"/>
<line x1="302.30" y1="932.80" x2="302.30" y2="920.70" stroke="#000" stroke-width="2.2" stroke-linecap="butt"/>
<line x1="299.05" y1="920.70" x2="305.55" y2="920.70" stroke="#000" stroke-width="2.4" stroke-linecap="butt"/>
<line x1="401.30" y1="925.50" x2="401.30" y2="911.60" stroke="#000" stroke-width="2.2" stroke-linecap="butt"/>
<line x1="398.05" y1="911.60" x2="404.55" y2="911.60" stroke="#000" stroke-width="2.4" stroke-linecap="butt"/>
<line x1="501.60" y1="919.20" x2="501.60" y2="902.60" stroke="#000" stroke-width="2.2" stroke-linecap="butt"/>
<line x1="498.35" y1="902.60" x2="504.85" y2="902.60" stroke="#000" stroke-width="2.4" stroke-linecap="butt"/>
<path d="M124.00,940.50 L129.50,946.00 L124.00,951.50 L118.50,946.00 Z" fill="#fff" stroke="#000" stroke-width="2.2"/>
<path d="M153.20,942.20 L158.70,947.70 L153.20,953.20 L147.70,947.70 Z" fill="#fff" stroke="#000" stroke-width="2.2"/>
<path d="M203.00,934.50 L208.50,940.00 L203.00,945.50 L197.50,940.00 Z" fill="#fff" stroke="#000" stroke-width="2.2"/>
<path d="M302.30,927.30 L307.80,932.80 L302.30,938.30 L296.80,932.80 Z" fill="#fff" stroke="#000" stroke-width="2.2"/>
<path d="M401.30,920.00 L406.80,925.50 L401.30,931.00 L395.80,925.50 Z" fill="#fff" stroke="#000" stroke-width="2.2"/>
<path d="M501.60,913.70 L507.10,919.20 L501.60,924.70 L496.10,919.20 Z" fill="#fff" stroke="#000" stroke-width="2.2"/>
<circle cx="114.50" cy="949.50" r="4.4" fill="#fff" stroke="#000" stroke-width="2.1"/>
<circle cx="142.50" cy="944.60" r="4.4" fill="#fff" stroke="#000" stroke-width="2.1"/>
<circle cx="191.50" cy="942.50" r="4.4" fill="#fff" stroke="#000" stroke-width="2.1"/>
<circle cx="290.20" cy="940.80" r="4.4" fill="#fff" stroke="#000" stroke-width="2.1"/>
<circle cx="392.60" cy="938.30" r="4.4" fill="#fff" stroke="#000" stroke-width="2.1"/>
<circle cx="491.30" cy="908.80" r="4.4" fill="#fff" stroke="#000" stroke-width="2.1"/>
<rect x="116.80" y="932.70" width="9.8" height="10" fill="#cacaca" stroke="#000" stroke-width="2.2"/>
<rect x="133.70" y="913.50" width="9.8" height="10" fill="#cacaca" stroke="#000" stroke-width="2.2"/>
<rect x="183.20" y="905.70" width="9.8" height="10" fill="#cacaca" stroke="#000" stroke-width="2.2"/>
<rect x="285.30" y="900.10" width="9.8" height="10" fill="#cacaca" stroke="#000" stroke-width="2.2"/>
<rect x="385.30" y="891.00" width="9.8" height="10" fill="#cacaca" stroke="#000" stroke-width="2.2"/>
<rect x="489.80" y="872.70" width="9.8" height="10" fill="#cacaca" stroke="#000" stroke-width="2.2"/>
<path d="M116.50,932.20 L123.50,946.80 L109.50,946.80 Z" fill="#000"/>
<path d="M147.00,924.70 L154.00,939.30 L140.00,939.30 Z" fill="#000"/>
<path d="M200.20,888.20 L207.20,902.80 L193.20,902.80 Z" fill="#000"/>
<path d="M304.30,884.50 L311.30,899.10 L297.30,899.10 Z" fill="#000"/>
<path d="M400.60,863.40 L407.60,878.00 L393.60,878.00 Z" fill="#000"/>
<path d="M510.30,825.40 L517.30,840.00 L503.30,840.00 Z" fill="#000"/>
<path d="M188.10,872.20L188.10,869.40M188.10,872.20L190.76,871.33M188.10,872.20L189.75,874.47M188.10,872.20L186.45,874.47M188.10,872.20L185.44,871.33" stroke="#000" stroke-width="1.5" stroke-linecap="round" fill="none"/>
<path d="M200.20,847.30L200.20,844.50M200.20,847.30L202.86,846.43M200.20,847.30L201.85,849.57M200.20,847.30L198.55,849.57M200.20,847.30L197.54,846.43" stroke="#000" stroke-width="1.5" stroke-linecap="round" fill="none"/>
<path d="M291.20,863.60L291.20,860.80M291.20,863.60L293.86,862.73M291.20,863.60L292.85,865.87M291.20,863.60L289.55,865.87M291.20,863.60L288.54,862.73" stroke="#000" stroke-width="1.5" stroke-linecap="round" fill="none"/>
<path d="M302.30,843.80L302.30,841.00M302.30,843.80L304.96,842.93M302.30,843.80L303.95,846.07M302.30,843.80L300.65,846.07M302.30,843.80L299.64,842.93" stroke="#000" stroke-width="1.5" stroke-linecap="round" fill="none"/>
<path d="M390.90,850.00L390.90,847.20M390.90,850.00L393.56,849.13M390.90,850.00L392.55,852.27M390.90,850.00L389.25,852.27M390.90,850.00L388.24,849.13" stroke="#000" stroke-width="1.5" stroke-linecap="round" fill="none"/>
<path d="M400.60,813.70L400.60,810.90M400.60,813.70L403.26,812.83M400.60,813.70L402.25,815.97M400.60,813.70L398.95,815.97M400.60,813.70L397.94,812.83" stroke="#000" stroke-width="1.5" stroke-linecap="round" fill="none"/>
<path d="M487.80,858.00L487.80,855.20M487.80,858.00L490.46,857.13M487.80,858.00L489.45,860.27M487.80,858.00L486.15,860.27M487.80,858.00L485.14,857.13" stroke="#000" stroke-width="1.5" stroke-linecap="round" fill="none"/>
<path d="M510.30,778.00L510.30,775.20M510.30,778.00L512.96,777.13M510.30,778.00L511.95,780.27M510.30,778.00L508.65,780.27M510.30,778.00L507.64,777.13" stroke="#000" stroke-width="1.5" stroke-linecap="round" fill="none"/>
<path d="M86,951 L94.6,937.5 L99,942 L102.3,944 L102.3,954.6 L86,954.6 Z" fill="#000"/>
<ellipse cx="97.8" cy="946.6" rx="1.6" ry="1" fill="#fff"/>
<ellipse cx="96.6" cy="950.8" rx="1.4" ry="0.9" fill="#fff"/>
<text x="92.64" y="978.90" font-size="16.00" textLength="8.43" lengthAdjust="spacingAndGlyphs" stroke="#000" stroke-width="0.5">0</text>
<text x="116.04" y="978.90" font-size="16.00" textLength="17.34" lengthAdjust="spacingAndGlyphs" stroke="#000" stroke-width="0.5">15</text>
<text x="144.05" y="979.60" font-size="16.00" textLength="17.67" lengthAdjust="spacingAndGlyphs" stroke="#000" stroke-width="0.5">30</text>
<text x="190.49" y="978.90" font-size="16.00" textLength="17.73" lengthAdjust="spacingAndGlyphs" stroke="#000" stroke-width="0.5">60</text>
<text x="284.33" y="980.70" font-size="16.00" textLength="26.20" lengthAdjust="spacingAndGlyphs" stroke="#000" stroke-width="0.5">120</text>
<text x="384.13" y="980.90" font-size="16.00" textLength="26.10" lengthAdjust="spacingAndGlyphs" stroke="#000" stroke-width="0.5">180</text>
<text x="483.56" y="980.30" font-size="16.00" textLength="27.91" lengthAdjust="spacingAndGlyphs" stroke="#000" stroke-width="0.5">240</text>
<text x="247.89" y="1021.70" font-size="15.50" textLength="81.97" lengthAdjust="spacingAndGlyphs" stroke="#000" stroke-width="0.5">TIME (min)</text>
</svg></body></html>
